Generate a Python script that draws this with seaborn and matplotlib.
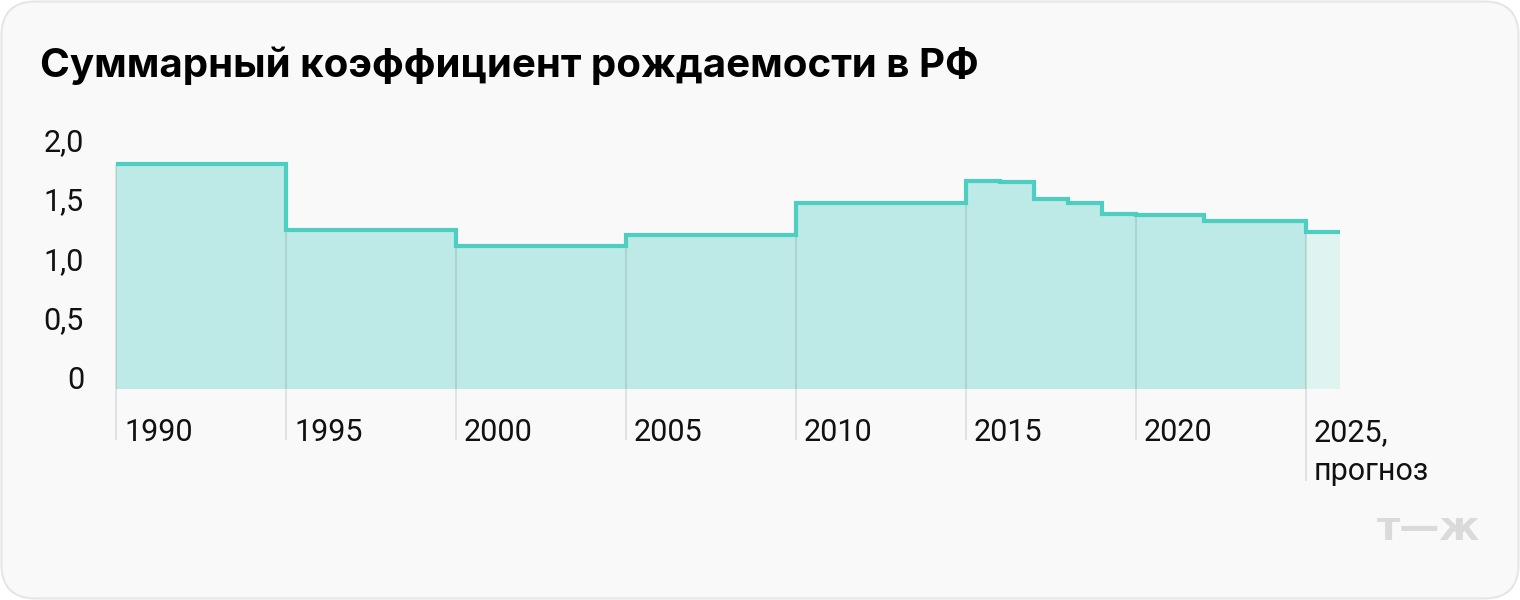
import matplotlib
matplotlib.use("Agg")
import matplotlib.pyplot as plt
import seaborn as sns
import numpy as np
import pandas as pd
from matplotlib.patches import FancyBboxPatch
from matplotlib.transforms import IdentityTransform

# each value holds from its year until the next listed year
start_years = [1990, 1995, 2000, 2005, 2010, 2015, 2016, 2017, 2018, 2019, 2020, 2022, 2025]
tfr = [1.89, 1.34, 1.20, 1.29, 1.56, 1.75, 1.74, 1.60, 1.56, 1.47, 1.46, 1.41, 1.32]
end_year = 2026
forecast_from = 2025

tick_years = [1990, 1995, 2000, 2005, 2010, 2015, 2020, 2025]
tick_labels = ["1990", "1995", "2000", "2005", "2010", "2015", "2020", "2025,\nпрогноз"]
y_ticks = [0, 0.5, 1.0, 1.5, 2.0]
y_labels = ["0", "0,5", "1,0", "1,5", "2,0"]
title = "Суммарный коэффициент рождаемости в РФ"

LINE = "#4ecdc1"
FILL = "#bdeae6"
FILL_FC = "#dff3f1"
BG = "#f9f9f9"

sns.set_theme(style="white")
plt.rcParams["font.family"] = ["Roboto", "DejaVu Sans"]

df = pd.DataFrame({"year": start_years + [end_year], "tfr": tfr + [tfr[-1]]})

fig = plt.figure(figsize=(15.2, 6), dpi=100)
fig.patch.set_facecolor("white")
card = FancyBboxPatch((1.5, 1.5), 1517, 597, boxstyle="round,pad=0,rounding_size=34",
                      transform=IdentityTransform(), facecolor=BG, edgecolor="#e6e6e6",
                      linewidth=1.5, zorder=-5)
fig.patches.append(card)

ax = fig.add_axes([116 / 1520, 211 / 600, 1224 / 1520, 238 / 600])
ax.set_facecolor("none")

hist = df[df["year"] <= forecast_from]
fc = df[df["year"] >= forecast_from]
ax.fill_between(hist["year"], 0, hist["tfr"], step="post", color=FILL, linewidth=0, zorder=1)
ax.fill_between(fc["year"], 0, fc["tfr"], step="post", color=FILL_FC, linewidth=0, zorder=1)

# vertical guides run from the lower of the two neighbouring steps down past the axis
grid_top = []
for t in tick_years:
    at = df[df["year"] <= t]["tfr"].iloc[-1]
    before = df[df["year"] < t]["tfr"]
    grid_top.append(min(at, before.iloc[-1]) if len(before) else at)
grid_bottom = [-0.77 if t == forecast_from else -0.43 for t in tick_years]
ax.vlines(tick_years, grid_bottom, grid_top, colors="#000000", alpha=0.09,
          linewidth=1.5, clip_on=False, zorder=2)

sns.lineplot(data=df, x="year", y="tfr", drawstyle="steps-post", color=LINE,
             linewidth=3, errorbar=None, ax=ax, zorder=3,
             solid_capstyle="butt", solid_joinstyle="miter")

ax.set_xlim(start_years[0], end_year)
ax.set_ylim(0, 2.0)
ax.set_xticks([])
ax.set_yticks(y_ticks, y_labels)
ax.tick_params(axis="y", length=0, pad=23, labelsize=22, labelcolor="#111111")
for lab in ax.get_yticklabels():
    lab.set_verticalalignment("baseline")
ax.set_xlabel("")
ax.set_ylabel("")
sns.despine(ax=ax, left=True, bottom=True)

# year labels sit just right of their guide; extra lines go 39 px lower each
for t, lab in zip(tick_years, tick_labels):
    for i, line in enumerate(lab.split("\n")):
        ax.annotate(line, xy=(t, 0), xycoords="data",
                    xytext=(8 * 0.72, -(52 + 39 * i) * 0.72),
                    textcoords="offset points", ha="left", va="baseline",
                    fontsize=22, color="#111111", annotation_clip=False)

fig.text(40 / 1520, 1 - 77 / 600, title, fontsize=29, fontweight="bold",
         color="#000000", ha="left", va="baseline", family=["Inter", "DejaVu Sans"])
fig.text(1480 / 1520, 1 - 540 / 600, "т—ж", fontsize=29, fontweight="bold",
         color="#dadada", ha="right", va="baseline", family=["DejaVu Sans"])

fig.savefig("out.png", dpi=100, facecolor=fig.get_facecolor())
